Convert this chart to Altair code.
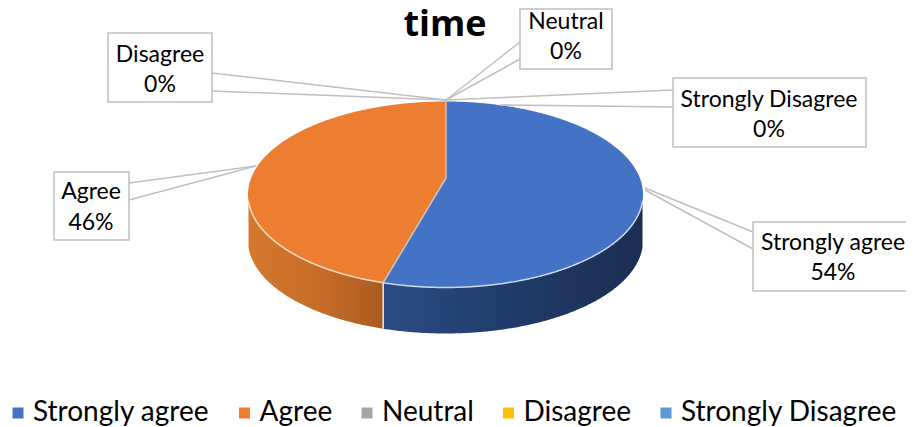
import altair as alt
import numpy as np
import pandas as pd

title_text = "time"
categories = ["Strongly agree", "Agree", "Neutral", "Disagree", "Strongly Disagree"]
shares = [54, 46, 0, 0, 0]
colors = ["#4472C4", "#ED7D31", "#A5A5A5", "#FFC000", "#5B9BD5"]

# label boxes: left, right, top, bottom (in reference pixels)
box_cat = ["Strongly agree", "Agree", "Neutral", "Disagree", "Strongly Disagree"]
box_left = [753, 54, 520, 108, 673]
box_right = [912, 129, 612, 212, 866]
box_top = [222, 172, 9, 33, 78]
box_bottom = [291, 240, 69, 102, 147]
box_cx = [833, 91, 566, 160, 769]
box_base1 = [250, 199, 29, 62, 107]
box_base2 = [280, 230, 59, 92, 137]
# leader lines: start on box edge, end on pie
lead_x1 = [753, 753, 129, 129, 520, 520, 212, 212, 673, 673]
lead_y1 = [232, 249, 183, 200, 42, 59, 73, 91, 90, 107]
lead_x2 = [645, 645, 256, 256, 446, 446, 446, 446, 446, 500]
lead_y2 = [188, 190, 166, 166, 100, 100, 100, 100, 100, 105]

# pie geometry
cx, cy, rx, ry = 445.5, 194.5, 197.5, 93.0
hub_x, hub_y = 446.0, 178.0
top_y = cy - ry
depth = 46.0
perspective_shift = 4.0

theta = np.radians(shares[0] * 3.6 + perspective_shift)
split_x = cx + rx * np.sin(theta)
split_y = cy - ry * np.cos(theta)


def grid(a, b, n=160):
    ua = np.arccos(np.clip((cx - a) / rx, -1, 1))
    ub = np.arccos(np.clip((cx - b) / rx, -1, 1))
    return cx - rx * np.cos(np.linspace(ua, ub, n))


def upper(x):
    return cy - ry * np.sqrt(np.clip(1 - ((x - cx) / rx) ** 2, 0, 1))


def lower(x):
    return cy + ry * np.sqrt(np.clip(1 - ((x - cx) / rx) ** 2, 0, 1))


def radial(x):
    return hub_y + (x - hub_x) * (split_y - hub_y) / (split_x - hub_x)


# top faces
xb1 = grid(split_x, hub_x, 60)
xb2 = grid(hub_x + 0.01, cx + rx, 200)
blue = pd.DataFrame({
    "x": np.r_[xb1, xb2],
    "y": np.r_[radial(xb1), upper(xb2)],
    "y2": np.r_[lower(xb1), lower(xb2)],
    "cat": categories[0],
})
xo1 = grid(cx - rx, split_x - 0.01, 160)
xo2 = grid(split_x, hub_x, 60)
orange = pd.DataFrame({
    "x": np.r_[xo1, xo2],
    "y": np.r_[upper(xo1), upper(xo2)],
    "y2": np.r_[lower(xo1), radial(xo2)],
    "cat": categories[1],
})
top = pd.concat([blue, orange], ignore_index=True)

# side walls
xs_o = grid(cx - rx + 0.5, split_x, 160)
xs_b = grid(split_x, cx + rx - 0.5, 240)
side_o = pd.DataFrame({"x": xs_o, "y": lower(xs_o), "y2": lower(xs_o) + depth})
side_b = pd.DataFrame({"x": xs_b, "y": lower(xs_b), "y2": lower(xs_b) + depth})

x_scale = alt.Scale(domain=[8, 906], nice=False, zero=False)
y_scale = alt.Scale(domain=[426, 8], nice=False, zero=False)
X = alt.X("x:Q", scale=x_scale, axis=None)
Y = alt.Y("y:Q", scale=y_scale, axis=None, stack=None)


def grad(stops):
    return alt.LinearGradient(
        gradient="linear", x1=0, x2=1, y1=0, y2=0,
        stops=[alt.GradientStop(color=c, offset=o) for o, c in stops],
    )


wall_o = alt.Chart(side_o).mark_area(
    color=grad([(0, "#d4782e"), (0.55, "#c56c28"), (1, "#a95b20")])
).encode(x=X, y=Y, y2="y2:Q")
wall_b = alt.Chart(side_b).mark_area(
    color=grad([(0, "#2b4c84"), (0.45, "#213c6b"), (1, "#1b2e52")])
).encode(x=X, y=Y, y2="y2:Q")

faces = alt.Chart(top).mark_area(opacity=1).encode(
    x=X, y=Y, y2="y2:Q",
    color=alt.Color(
        "cat:N",
        sort=None,
        scale=alt.Scale(domain=categories, range=colors),
        legend=alt.Legend(
            title=None, orient="none", legendX=-4, legendY=391, direction="horizontal",
            columns=5, symbolType="square", symbolSize=121, symbolStrokeWidth=0,
            symbolOpacity=1, labelFont="Lato", labelFontSize=28, labelColor="#000000",
            labelOffset=1, columnPadding=20.5, labelLimit=300, padding=0,
        ),
    ),
)

# rims and seams
rim_o = pd.DataFrame({"x": xs_o, "y": lower(xs_o)})
rim_b = pd.DataFrame({"x": xs_b, "y": lower(xs_b)})
line_rim_o = alt.Chart(rim_o).mark_line(color="#f6dcc4", strokeWidth=1.5).encode(x=X, y=Y)
line_rim_b = alt.Chart(rim_b).mark_line(color="#cdd9ee", strokeWidth=1.5).encode(x=X, y=Y)
seam = pd.DataFrame({
    "x": [hub_x, hub_x, split_x], "y": [top_y, hub_y, split_y], "o": [0, 1, 2]
})
line_seam = alt.Chart(seam).mark_line(color="#c9c4c0", strokeWidth=1.5).encode(x=X, y=Y, order="o:Q")
seam2 = pd.DataFrame({"x": [split_x], "y": [split_y], "y2": [split_y + depth]})
line_seam2 = alt.Chart(seam2).mark_rule(color="#f2ece6", strokeWidth=1.5).encode(x=X, y=Y, y2="y2:Q")

# callouts
leads = pd.DataFrame({"x": lead_x1, "y": lead_y1, "x2": lead_x2, "y2": lead_y2})
lead_rules = alt.Chart(leads).mark_rule(color="#bfbfbf", strokeWidth=1.5).encode(
    x=X, y=Y, x2="x2:Q", y2="y2:Q"
)
boxes = pd.DataFrame({
    "x": box_left, "x2": box_right, "y": box_top, "y2": box_bottom,
    "tx": box_cx, "b1": box_base1, "b2": box_base2,
    "name": box_cat,
    "pct": [f"{shares[categories.index(c)]}%" for c in box_cat],
})
box_rects = alt.Chart(boxes).mark_rect(fill="#ffffff", stroke="#bfbfbf", strokeWidth=1.5).encode(
    x=X, y=Y, x2="x2:Q", y2="y2:Q"
)
label_style = dict(font="Lato", fontSize=23, color="#000000", align="center", baseline="alphabetic")
labels1 = alt.Chart(boxes).mark_text(**label_style).encode(
    x=alt.X("tx:Q", scale=x_scale, axis=None), y=alt.Y("b1:Q", scale=y_scale, axis=None), text="name:N"
)
labels2 = alt.Chart(boxes).mark_text(**label_style).encode(
    x=alt.X("tx:Q", scale=x_scale, axis=None), y=alt.Y("b2:Q", scale=y_scale, axis=None), text="pct:N"
)
title_df = pd.DataFrame({"x": [445], "y": [36], "t": [title_text]})
title_mark = alt.Chart(title_df).mark_text(
    font="Open Sans", fontSize=36, fontWeight="bold", color="#000000", align="center", baseline="alphabetic"
).encode(x=X, y=Y, text="t:N")

chart = alt.layer(
    wall_o, wall_b, faces, line_rim_o, line_rim_b, line_seam, line_seam2,
    lead_rules, box_rects, labels1, labels2, title_mark,
).properties(
    width=898,
    height=418,
    padding=0,
    autosize=alt.AutoSizeParams(type="none"),
).configure_view(stroke=None)

chart.save("out.html", embed_options={"renderer": "svg", "actions": False})
